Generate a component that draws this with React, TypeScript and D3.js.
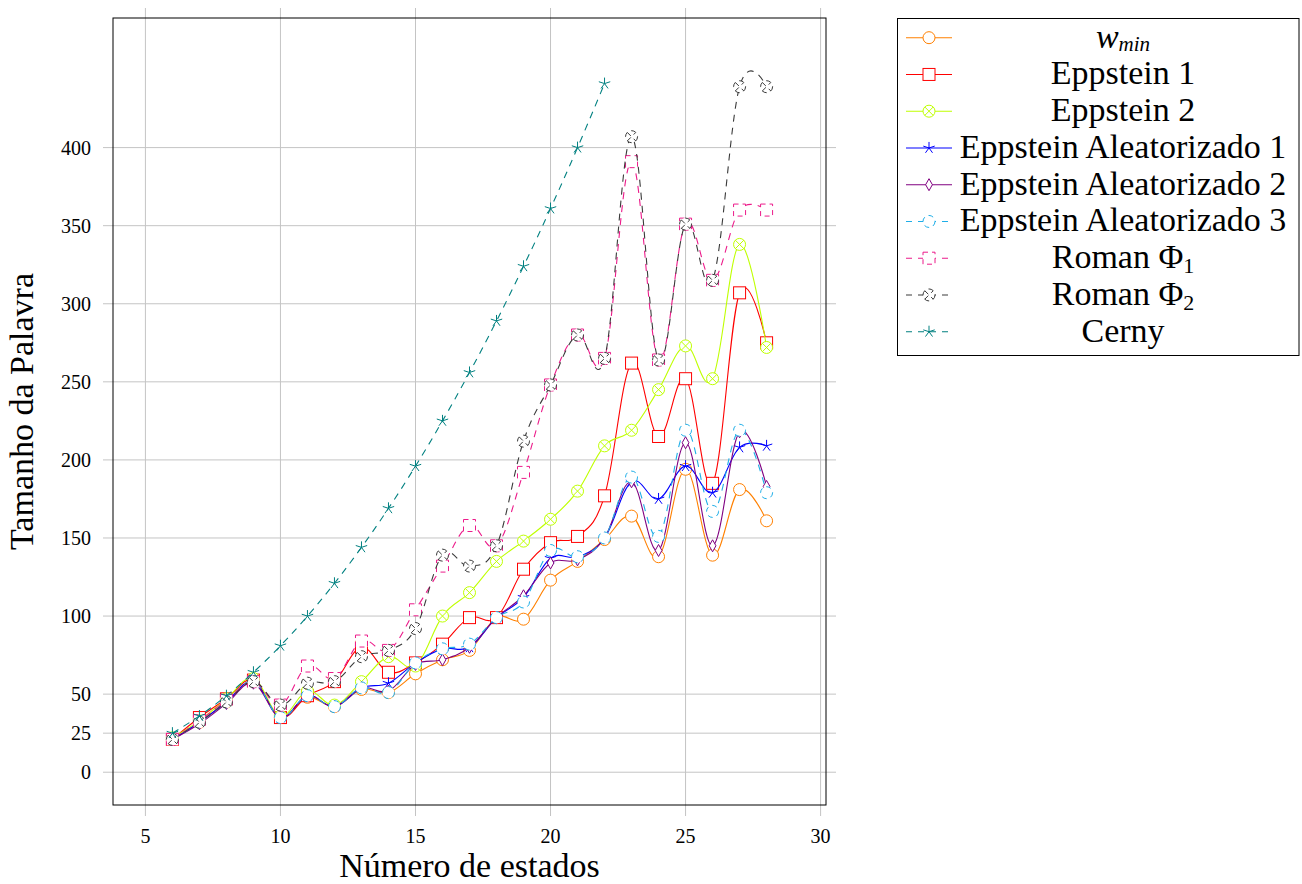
import * as d3 from 'd3'

// número de estados
const estados = [6, 7, 8, 9, 10, 11, 12, 13, 14, 15, 16, 17, 18, 19, 20, 21, 22, 23, 24, 25, 26, 27, 28]

const wMin = [21, 32, 45, 58, 35, 48, 42, 53, 51, 63, 72, 78, 99, 98, 123, 135, 149, 164, 138, 194, 139, 181, 161]
const eppstein1 = [21, 35, 47, 59, 35, 49, 58, 80, 64, 70, 82, 99, 99, 130, 147, 151, 177, 262, 215, 252, 185, 307, 275]
const eppstein2 = [22, 33, 47, 60, 36, 52, 43, 58, 74, 68, 100, 115, 135, 148, 162, 180, 209, 219, 245, 273, 252, 338, 272]
const aleat1 = [21, 32, 45, 58, 35, 49, 42, 54, 57, 70, 79, 80, 99, 112, 137, 138, 150, 186, 175, 196, 179, 208, 209]
const aleat2 = [21, 31, 44, 57, 35, 49, 42, 54, 52, 69, 72, 80, 99, 113, 134, 136, 150, 186, 142, 211, 145, 218, 183]
const aleat3 = [21, 32, 45, 58, 35, 49, 42, 54, 51, 70, 79, 82, 99, 109, 142, 138, 150, 189, 151, 219, 167, 219, 179]
const romanPhi1 = [21, 33, 46, 58, 43, 68, 60, 84, 78, 104, 132, 158, 145, 192, 248, 280, 265, 391, 264, 351, 315, 360, 360]
const romanPhi2 = [21, 32, 45, 58, 43, 57, 58, 74, 78, 92, 139, 132, 145, 212, 248, 280, 265, 407, 264, 351, 315, 439, 439]
const cernyEstados = [6, 7, 8, 9, 10, 11, 12, 13, 14, 15, 16, 17, 18, 19, 20, 21, 22]
const cerny = [25, 36, 49, 64, 81, 100, 121, 144, 169, 196, 225, 256, 289, 324, 361, 400, 441]

const xTicks = [5, 10, 15, 20, 25, 30]
const yTicks = [0, 25, 50, 100, 150, 200, 250, 300, 350, 400]

type Mark = 'o' | 'square' | 'otimes' | 'star' | 'diamond'

const series: { key: string; xs: number[]; ys: number[]; color: string; mark: Mark; dashed: boolean }[] = [
  { key: 'wmin', xs: estados, ys: wMin, color: '#ff8000', mark: 'o', dashed: false },
  { key: 'e1', xs: estados, ys: eppstein1, color: '#ff0000', mark: 'square', dashed: false },
  { key: 'e2', xs: estados, ys: eppstein2, color: '#bfff00', mark: 'otimes', dashed: false },
  { key: 'a1', xs: estados, ys: aleat1, color: '#0000ff', mark: 'star', dashed: false },
  { key: 'a2', xs: estados, ys: aleat2, color: '#800080', mark: 'diamond', dashed: false },
  { key: 'a3', xs: estados, ys: aleat3, color: '#1eaee8', mark: 'o', dashed: true },
  { key: 'p1', xs: estados, ys: romanPhi1, color: '#ec1b8a', mark: 'square', dashed: true },
  { key: 'p2', xs: estados, ys: romanPhi2, color: '#3a3a3a', mark: 'otimes', dashed: true },
  { key: 'cerny', xs: cernyEstados, ys: cerny, color: '#008080', mark: 'star', dashed: true },
]

const font = '"Liberation Serif", "DejaVu Serif", serif'
const dash = '7,6'

const box = { left: 113, right: 826, top: 18, bottom: 805 }

function Marker({ mark, x, y, color, dashed }: { mark: Mark; x: number; y: number; color: string; dashed: boolean }) {
  const common = { stroke: color, strokeWidth: 1, strokeDasharray: dashed ? '5,4' : undefined }
  const r = 6
  if (mark === 'o') return <circle cx={x} cy={y} r={r} fill="white" {...common} />
  if (mark === 'square') return <rect x={x - r} y={y - r} width={2 * r} height={2 * r} fill="white" {...common} />
  if (mark === 'diamond')
    return <path d={`M${x},${y - r}L${x + 0.75 * r * 0.75},${y}L${x},${y + r}L${x - 0.75 * r * 0.75},${y}Z`} fill="white" {...common} />
  if (mark === 'otimes') {
    const k = r * Math.SQRT1_2
    return (
      <g {...common}>
        <circle cx={x} cy={y} r={r} fill="white" />
        <path d={`M${x - k},${y - k}L${x + k},${y + k}M${x - k},${y + k}L${x + k},${y - k}`} fill="none" />
      </g>
    )
  }
  // star: 5 spokes
  const d = d3
    .range(5)
    .map((i) => {
      const a = -Math.PI / 2 + (i * 2 * Math.PI) / 5
      return `M${x},${y}L${x + r * Math.cos(a)},${y + r * Math.sin(a)}`
    })
    .join('')
  return <path d={d} fill="none" stroke={color} strokeWidth={1} />
}

function legendLabel(key: string) {
  if (key === 'wmin')
    return (
      <>
        <tspan fontStyle="italic">w</tspan>
        <tspan fontStyle="italic" fontSize="21" dy="3">min</tspan>
      </>
    )
  if (key === 'e1') return 'Eppstein 1'
  if (key === 'e2') return 'Eppstein 2'
  if (key === 'a1') return 'Eppstein Aleatorizado 1'
  if (key === 'a2') return 'Eppstein Aleatorizado 2'
  if (key === 'a3') return 'Eppstein Aleatorizado 3'
  if (key === 'p1')
    return (
      <>
        Roman Φ<tspan fontSize="22" dy="5">1</tspan>
      </>
    )
  if (key === 'p2')
    return (
      <>
        Roman Φ<tspan fontSize="22" dy="5">2</tspan>
      </>
    )
  return 'Cerny'
}

export default function App() {
  const x = d3.scaleLinear().domain([3.8, 30.2]).range([box.left, box.right])
  const y = d3.scaleLinear().domain([-21, 483]).range([box.bottom, box.top])

  const line = d3
    .line<[number, number]>()
    .x((d) => x(d[0]))
    .y((d) => y(d[1]))
    .curve(d3.curveCardinal.tension(-0.1))

  return (
    <svg width={1302} height={884} style={{ position: 'absolute', left: 0, top: 0, background: 'white' }} fontFamily={font}>
      <defs>
        <clipPath id="plot">
          <rect x={box.left} y={box.top} width={box.right - box.left} height={box.bottom - box.top} />
        </clipPath>
      </defs>

      {/* grid */}
      <g stroke="#c4c4c4" strokeWidth={1}>
        {xTicks.map((t) => (
          <line key={'gx' + t} x1={x(t)} x2={x(t)} y1={box.top - 10} y2={box.bottom + 11} />
        ))}
        {yTicks.map((t) => (
          <line key={'gy' + t} x1={box.left - 10} x2={box.right + 10} y1={y(t)} y2={y(t)} />
        ))}
      </g>

      {/* tick labels */}
      <g fontSize={20} fill="#000">
        {xTicks.map((t) => (
          <text key={'tx' + t} x={x(t)} y={843} textAnchor="middle">
            {t}
          </text>
        ))}
        {yTicks.map((t) => (
          <text key={'ty' + t} x={91} y={y(t) + 7} textAnchor="end">
            {t}
          </text>
        ))}
      </g>

      {/* series */}
      <g clipPath="url(#plot)">
        {series.map((s) => {
          const pts = s.xs.map((v, i) => [v, s.ys[i]] as [number, number])
          return (
            <g key={s.key}>
              <path d={line(pts) || ''} fill="none" stroke={s.color} strokeWidth={1.1} strokeDasharray={s.dashed ? dash : undefined} />
              {pts.map((p, i) => (
                <Marker key={i} mark={s.mark} x={x(p[0])} y={y(p[1])} color={s.color} dashed={s.dashed} />
              ))}
            </g>
          )
        })}
      </g>

      <rect x={box.left} y={box.top} width={box.right - box.left} height={box.bottom - box.top} fill="none" stroke="#000" strokeWidth={1} />

      {/* axis labels */}
      <text x={(box.left + box.right) / 2} y={877} textAnchor="middle" fontSize={34}>
        Número de estados
      </text>
      <text transform={`translate(33,${(box.top + box.bottom) / 2}) rotate(-90)`} textAnchor="middle" fontSize={34}>
        Tamanho da Palavra
      </text>

      {/* legend */}
      <g>
        <rect x={897.5} y={18.5} width={401.5} height={337} fill="white" stroke="#000" strokeWidth={1} />
        {series.map((s, i) => {
          const cy = 37.7 + i * 36.75
          return (
            <g key={'lg' + s.key}>
              <line x1={906} x2={952} y1={cy} y2={cy} stroke={s.color} strokeWidth={1.1} strokeDasharray={s.dashed ? '6,6' : undefined} />
              <Marker mark={s.mark} x={929} y={cy} color={s.color} dashed={s.dashed} />
              <text x={1123} y={cy + 10} textAnchor="middle" fontSize={34}>
                {legendLabel(s.key)}
              </text>
            </g>
          )
        })}
      </g>
    </svg>
  )
}
